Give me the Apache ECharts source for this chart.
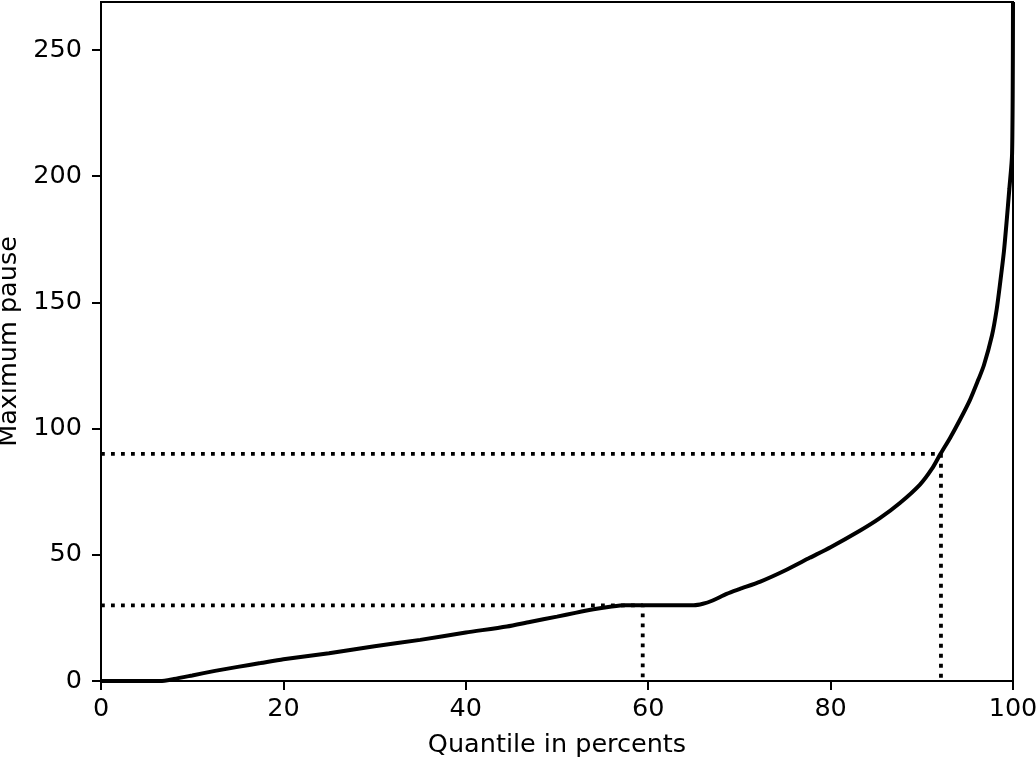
<!DOCTYPE html>
<html>
<head>
<meta charset="utf-8">
<script src="https://cdn.jsdelivr.net/npm/echarts@6/dist/echarts.min.js"></script>
<style>
html,body{margin:0;padding:0;background:#fff;}
#chart{width:1036px;height:759px;}
</style>
</head>
<body>
<div id="chart"></div>
<script>
// Quantile (percent) vs maximum pause
const quantiles = [0, 6.5, 8, 10, 12.5, 15, 17.5, 20, 25, 30, 35, 40, 44.5, 47, 50, 52, 54, 56, 57.5, 65, 66, 67, 68.6, 70, 72.3, 75, 77.7, 80, 83.2, 85.4, 87.6, 89.8, 91.1, 92, 93.1, 94.2, 95.3, 96.2, 96.8, 97.7, 98.2, 98.6, 99, 99.3, 99.6, 99.9, 100];
const pauses    = [0, 0,   0.8, 2.2, 4, 5.6, 7.1, 8.6, 11, 13.8, 16.3, 19.2, 21.6, 23.4, 25.5, 27, 28.4, 29.5, 30, 30, 30.6, 31.8, 34.5, 36.4, 39.4, 43.8, 48.8, 53, 59.5, 64.5, 70.5, 77.8, 84, 89.7, 96.3, 103.6, 111.5, 119.4, 125, 137, 147, 158, 170, 182, 195, 209, 269];
// Reference (dotted) guides: [quantile, pause]
const guideA = [59.4, 30];
const guideB = [92.1, 90];
const xTicks = [0, 20, 40, 60, 80, 100];
const yTicks = [0, 50, 100, 150, 200, 250];
const yMax = 269;

const curve = quantiles.map((q, i) => [q, pauses[i]]);
const guide = g => [[0, g[1]], [g[0], g[1]], [g[0], 0]];

const font = 'DejaVu Sans';
const fs = 25.5;
const chart = echarts.init(document.getElementById('chart'));
const dotted = {
  type: 'line', showSymbol: false, symbol: 'none', silent: true,
  lineStyle: { color: '#000', width: 3.8, type: [3.8, 6.2], cap: 'butt' },
  z: 2
};
chart.setOption({
  animation: false,
  backgroundColor: '#fff',
  grid: { left: 101, right: 23, top: 2, bottom: 78, outerBoundsMode: 'none', containLabel: false,
          show: true, borderColor: '#000', borderWidth: 2, backgroundColor: 'transparent' },
  xAxis: {
    type: 'value', min: 0, max: 100, interval: 20,
    name: 'Quantile in percents', nameLocation: 'middle', nameGap: 51,
    nameTextStyle: { fontFamily: font, fontSize: fs, color: '#000' },
    axisLine: { show: true, onZero: false, lineStyle: { color: '#000', width: 2 } },
    axisTick: { show: true, inside: false, length: 9, lineStyle: { color: '#000', width: 2 }, customValues: xTicks },
    axisLabel: { fontFamily: font, fontSize: fs, color: '#000', margin: 15, customValues: xTicks },
    splitLine: { show: false }
  },
  yAxis: {
    type: 'value', min: 0, max: yMax, interval: 50,
    name: 'Maximum pause', nameLocation: 'middle', nameGap: 75,
    nameTextStyle: { fontFamily: font, fontSize: fs, color: '#000' },
    axisLine: { show: true, onZero: false, lineStyle: { color: '#000', width: 2 } },
    axisTick: { show: true, inside: false, length: 9, lineStyle: { color: '#000', width: 2 }, customValues: yTicks },
    axisLabel: { fontFamily: font, fontSize: fs, color: '#000', margin: 19, customValues: yTicks },
    splitLine: { show: false }
  },
  series: [
    Object.assign({ data: guide(guideA) }, dotted),
    Object.assign({ data: guide(guideB) }, dotted),
    {
      type: 'line', data: curve, showSymbol: false, symbol: 'none',
      smooth: 0.25,
      lineStyle: { color: '#000', width: 4 }, z: 3
    }
  ]
});
</script>
</body>
</html>
